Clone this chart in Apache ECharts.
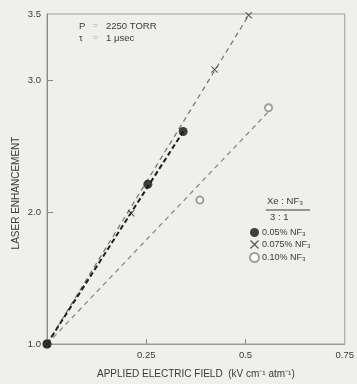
<!DOCTYPE html>
<html>
<head>
<meta charset="utf-8">
<script src="https://cdn.jsdelivr.net/npm/echarts@6/dist/echarts.min.js"></script>
<style>
  html, body { margin: 0; padding: 0; background: #efefeb; }
  #chart { width: 357px; height: 384px; }
</style>
</head>
<body>
<div id="chart"></div>
<script>
// Measured points: applied field (kV cm^-1 atm^-1) vs laser enhancement
const nf3_005 = [[0, 1.0], [0.254, 2.21], [0.343, 2.61]];
const nf3_0075 = [[0, 1.0], [0.212, 1.99], [0.422, 3.08], [0.508, 3.49]];
const nf3_010 = [[0, 1.0], [0.385, 2.09], [0.558, 2.79]];

// Straight-line fits drawn through each set
const fit_005 = [[0, 1.0], [0.343, 2.61]];
const fit_0075 = [[0, 1.0], [0.51, 3.5]];
const fit_010 = [[0, 1.0], [0.558, 2.76]];

// Axis tick labels
const xTickValues = [0.25, 0.5, 0.75];
const xTickLabels = ['0.25', '0.5', '0.75'];
const yTickValues = [1, 2, 3, 3.5];
const yTickLabels = ['1.0', '2.0', '3.0', '3.5'];

const seriesNames = ['0.05% NF\u2083', '0.075% NF\u2083', '0.10% NF\u2083'];

const crossPath = 'path://M0,1 L1,0 L5,4 L9,0 L10,1 L6,5 L10,9 L9,10 L5,6 L1,10 L0,9 L4,5 Z';
const textColor = '#3a3a3a';
const font = 'Liberation Sans, Arial, sans-serif';

const chart = echarts.init(document.getElementById('chart'));

chart.setOption({
  backgroundColor: '#efefeb',
  animation: false,
  textStyle: { fontFamily: font, color: textColor },
  grid: {
    left: 47, right: 6, top: 14, bottom: 37,
    show: true, borderColor: '#9a9a9a', borderWidth: 1
  },
  xAxis: {
    type: 'value', min: 0, max: 0.75, interval: 0.25,
    splitLine: { show: false },
    axisLine: { lineStyle: { color: '#9a9a9a', width: 1 } },
    axisTick: { inside: true, length: 5, customValues: [0.25, 0.5], lineStyle: { color: '#8a8a8a' } },
    axisLabel: {
      customValues: xTickValues,
      formatter: v => xTickLabels[xTickValues.indexOf(v)] || '',
      fontSize: 9.5, color: textColor, margin: 6, fontFamily: font
    },
    name: 'APPLIED ELECTRIC FIELD  (kV cm\u207B\u00B9 atm\u207B\u00B9)',
    nameLocation: 'middle', nameGap: 25,
    nameTextStyle: { fontSize: 10, color: textColor, fontFamily: font }
  },
  yAxis: {
    type: 'value', min: 1, max: 3.5, interval: 0.5,
    splitLine: { show: false },
    axisLine: { show: true, lineStyle: { color: '#8a8a8a', width: 1 } },
    axisTick: { inside: true, length: 6, customValues: [2, 3], lineStyle: { color: '#8a8a8a' } },
    axisLabel: {
      customValues: yTickValues,
      formatter: v => yTickLabels[yTickValues.indexOf(v)] || '',
      fontSize: 9.5, color: textColor, margin: 6, fontFamily: font
    }
  },
  legend: {
    orient: 'vertical', left: 244, top: 223, itemGap: 3,
    itemWidth: 9, itemHeight: 9,
    textStyle: { fontSize: 9, color: textColor, fontFamily: font, padding: [0, 0, 0, -2] },
    data: seriesNames
  },
  graphic: [
    { type: 'text', left: 79, top: 21, style: { text: 'P', fill: textColor, font: '9.5px ' + font } },
    { type: 'text', left: 93, top: 21, style: { text: '=', fill: '#aaa', font: '9px ' + font } },
    { type: 'text', left: 106, top: 21, style: { text: '2250 TORR', fill: textColor, font: '9.5px ' + font } },
    { type: 'text', left: 79, top: 33, style: { text: '\u03C4', fill: textColor, font: '9.5px ' + font } },
    { type: 'text', left: 93, top: 33, style: { text: '=', fill: '#aaa', font: '9px ' + font } },
    { type: 'text', left: 106, top: 33, style: { text: '1 \u03BCsec', fill: textColor, font: '9.5px ' + font } },
    { type: 'text', left: 267, top: 196, style: { text: 'Xe : NF\u2083', fill: textColor, font: '9.5px ' + font } },
    { type: 'line', shape: { x1: 266, y1: 210, x2: 310, y2: 210 }, style: { stroke: textColor, lineWidth: 1 } },
    { type: 'text', left: 270, top: 212, style: { text: '3 : 1', fill: textColor, font: '9.5px ' + font } },
    {
      type: 'text', x: 16, y: 193, rotation: Math.PI / 2,
      style: { text: 'LASER ENHANCEMENT', fill: textColor, font: '10px ' + font, align: 'center', verticalAlign: 'middle' }
    }
  ],
  series: [
    {
      type: 'line', data: fit_0075, symbol: 'none', silent: true,
      lineStyle: { color: '#7a7a7a', width: 1.3, type: [5, 4] }, z: 1
    },
    {
      type: 'line', data: fit_005, symbol: 'none', silent: true,
      lineStyle: { color: '#1e1e1e', width: 2, type: [5, 3] }, z: 2
    },
    {
      type: 'line', data: fit_010, symbol: 'none', silent: true,
      lineStyle: { color: '#8c8c8c', width: 1.3, type: [5, 4] }, z: 1
    },
    {
      name: seriesNames[0], type: 'scatter', data: nf3_005,
      symbol: 'circle', symbolSize: 9,
      itemStyle: { color: '#111' }, z: 5
    },
    {
      name: seriesNames[1], type: 'scatter', data: nf3_0075,
      symbol: crossPath, symbolSize: 7,
      itemStyle: { color: '#333' }, z: 4
    },
    {
      name: seriesNames[2], type: 'scatter', data: nf3_010,
      symbol: 'emptyCircle', symbolSize: 7,
      itemStyle: { color: '#8a8a8a', borderColor: '#8a8a8a', borderWidth: 1 }, z: 3
    }
  ]
});
</script>
</body>
</html>
